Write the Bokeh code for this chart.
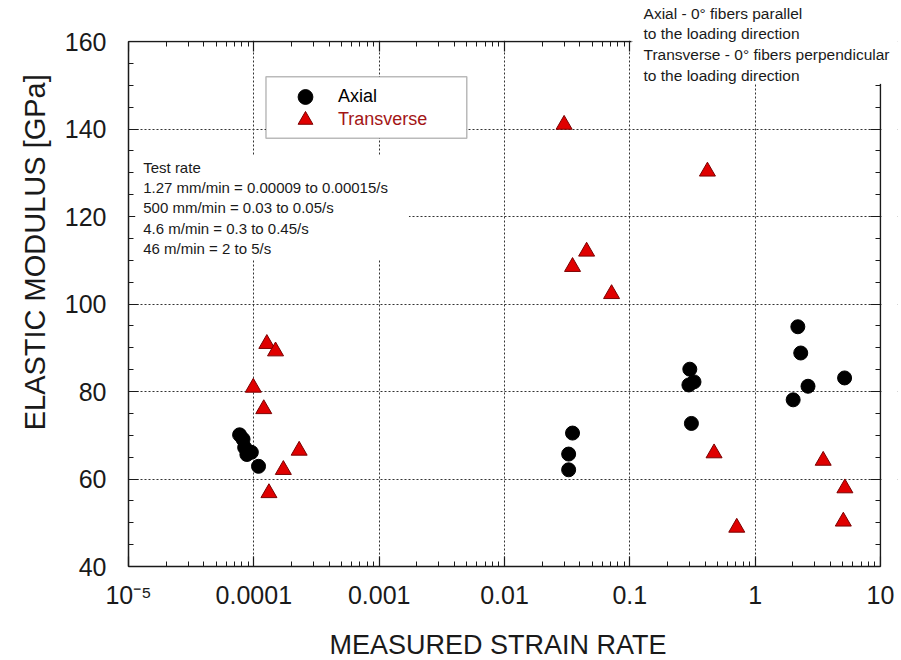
import math
from bokeh.plotting import figure
from bokeh.models import (Range1d, FixedTicker, CustomJSTickFormatter, LogAxis, LinearAxis,
                          Label, Legend, LegendItem, BoxAnnotation)
from bokeh.embed import file_html
from bokeh.resources import INLINE

# ---------------- data ----------------
axial_rate = [7.7e-5, 8.2e-5, 8.45e-5, 8.8e-5, 9.55e-5, 1.09e-4,
              0.0325, 0.0325, 0.0349,
              0.296, 0.301, 0.310, 0.325,
              2.01, 2.19, 2.31, 2.64, 5.17]
axial_modulus = [70.1, 69.1, 67.2, 65.6, 66.1, 62.9,
                 62.1, 65.7, 70.5,
                 81.5, 85.1, 72.7, 82.2,
                 78.1, 94.8, 88.8, 81.2, 83.1]

transverse_rate = [0.99e-4, 1.20e-4, 1.27e-4, 1.32e-4, 1.49e-4, 1.72e-4, 2.30e-4,
                   0.0299, 0.0349, 0.0452, 0.0715,
                   0.416, 0.47, 0.713,
                   3.49, 5.05, 5.2]
transverse_modulus = [80.9, 76.0, 90.9, 56.8, 89.2, 62.1, 66.5,
                      141.0, 108.5, 112.0, 102.3,
                      130.3, 65.9, 48.9,
                      64.2, 50.3, 57.9]

series_names = ["Axial", "Transverse"]

x_ticks = [1e-5, 1e-4, 1e-3, 1e-2, 1e-1, 1, 10]
x_tick_labels = ["10\u207b\u2075", "0.0001", "0.001", "0.01", "0.1", "1", "10"]
y_ticks = [40, 60, 80, 100, 120, 140, 160]

x_title = "MEASURED STRAIN RATE"
y_title = "ELASTIC MODULUS [GPa]"

test_rate_lines = ["Test rate",
                   "1.27 mm/min = 0.00009 to 0.00015/s",
                   "500 mm/min = 0.03 to 0.05/s",
                   "4.6 m/min = 0.3 to 0.45/s",
                   "46 m/min = 2 to 5/s"]
note_lines = ["Axial - 0\u00b0 fibers parallel",
              "to the loading direction",
              "Transverse - 0\u00b0 fibers perpendicular",
              "to the loading direction"]

# ---------------- styling ----------------
FONT = "Liberation Sans"
INK = "#1a1a1a"
TRI_FILL = "#e00000"
TRI_LINE = "#7a0000"
TRANS_TEXT = "#a31515"
NBSP = "\u00a0"

X_MIN, X_MAX = 1e-5, 10          # axis extent of the chart
Y_MIN, Y_MAX = 40, 160
PX_DEC = 752 / 6.0               # pixels per decade
PX_UNIT = 525 / 120.0            # pixels per GPa

# the frame is a little larger than the axes box so the corner note can sit
# over the top-right corner, as in the reference
x_hi = 10 ** (1 + 17 / PX_DEC)
y_hi = Y_MAX + 39 / PX_UNIT

p = figure(x_axis_type="log", x_range=Range1d(X_MIN, x_hi), y_range=Range1d(Y_MIN, y_hi),
           frame_width=769, frame_height=564,
           min_border_left=128, min_border_right=4, min_border_top=2, min_border_bottom=94,
           output_backend="svg", toolbar_location=None,
           background_fill_color="white", border_fill_color="white",
           outline_line_color=None)

x_minor = [k * 10.0 ** e for e in range(-5, 1) for k in range(2, 10)]
xt = FixedTicker(ticks=x_ticks, minor_ticks=x_minor)
yt = FixedTicker(ticks=y_ticks, minor_ticks=list(range(40, 161, 5)))

x_fmt = CustomJSTickFormatter(args=dict(tvals=x_ticks, tlabels=x_tick_labels), code="""
let best = 0, bd = Infinity;
for (let i = 0; i < tvals.length; i++) {
  const d = Math.abs(Math.log10(tick) - Math.log10(tvals[i]));
  if (d < bd) { bd = d; best = i; }
}
return tlabels[best];
""")
blank_fmt = CustomJSTickFormatter(code="return '';")


def style_axis(ax):
    ax.axis_line_color = INK
    ax.axis_line_width = 1.5
    ax.major_tick_in = 10
    ax.major_tick_out = 0
    ax.minor_tick_in = 5
    ax.minor_tick_out = 0
    ax.major_tick_line_color = INK
    ax.minor_tick_line_color = INK
    ax.major_tick_line_width = 1.2
    ax.minor_tick_line_width = 1
    ax.major_label_text_font = FONT
    ax.major_label_text_font_size = "25px"
    ax.major_label_text_color = INK


xa = p.xaxis[0]
xa.ticker = xt
xa.formatter = x_fmt
xa.bounds = (X_MIN, X_MAX)
style_axis(xa)
xa.major_label_standoff = 14
xa.axis_label = x_title + NBSP * 4
xa.axis_label_text_font = FONT
xa.axis_label_text_font_size = "27px"
xa.axis_label_text_font_style = "normal"
xa.axis_label_text_color = INK
xa.axis_label_standoff = 18

ya = p.yaxis[0]
ya.ticker = yt
ya.bounds = (Y_MIN, Y_MAX)
style_axis(ya)
ya.major_label_standoff = 22
ya.axis_label = NBSP * 8 + y_title
ya.axis_label_text_font = FONT
ya.axis_label_text_font_size = "29px"
ya.axis_label_text_font_style = "normal"
ya.axis_label_text_color = INK
ya.axis_label_standoff = 11

# top and right axes, drawn at the edges of the axes box, stopping at the corner note
top_ax = LogAxis(ticker=xt, formatter=blank_fmt, bounds=(X_MIN, 0.104), fixed_location=Y_MAX)
style_axis(top_ax)
top_ax.major_label_text_font_size = "0px"
top_ax.major_label_standoff = 0
p.add_layout(top_ax, "above")

right_ax = LinearAxis(ticker=yt, formatter=blank_fmt, bounds=(Y_MIN, 150.5), fixed_location=X_MAX)
style_axis(right_ax)
right_ax.major_label_text_font_size = "0px"
right_ax.major_label_standoff = 0
p.add_layout(right_ax, "right")

p.xgrid.ticker = xt
p.ygrid.ticker = yt
for g in (p.xgrid[0], p.ygrid[0]):
    g.grid_line_color = "#333333"
    g.grid_line_dash = "2 2"
    g.grid_line_width = 1

axial_r = p.scatter(axial_rate, axial_modulus, marker="circle", size=14,
                    fill_color="black", line_color="black")
trans_r = p.scatter(transverse_rate, transverse_modulus, marker="triangle", size=16,
                    fill_color=TRI_FILL, line_color=TRI_LINE, line_width=1)

# blank out the grid outside the axes box (top strip and right strip)
p.add_layout(BoxAnnotation(bottom=Y_MAX + 1 / PX_UNIT, fill_color="white", fill_alpha=1.0,
                           line_alpha=0))
p.add_layout(BoxAnnotation(left=10 ** (1 + 1 / PX_DEC), fill_color="white", fill_alpha=1.0,
                           line_alpha=0))

# legend frame
legend_box = BoxAnnotation(left=1.25e-4, right=0.0050, top=151.95, bottom=137.9,
                           fill_color="white", fill_alpha=1.0,
                           line_color=INK, line_width=1.5)
p.add_layout(legend_box)


def make_legend(item, color, loc):
    lg = Legend(items=[item], location=loc, orientation="vertical",
                border_line_alpha=0, background_fill_alpha=0,
                padding=0, margin=0, spacing=0,
                glyph_width=66, glyph_height=37, label_height=23, label_standoff=0,
                label_text_font=FONT, label_text_font_size="18px",
                label_text_color=color)
    return lg


p.add_layout(make_legend(LegendItem(label=series_names[0], renderers=[axial_r]), "black", (144, 451)))
p.add_layout(make_legend(LegendItem(label=series_names[1], renderers=[trans_r]), TRANS_TEXT, (144, 428)))

# text blocks
p.add_layout(Label(x=1.131e-5, y=133.9, text="\n".join(test_rate_lines),
                   text_align="left", text_baseline="top",
                   text_font=FONT, text_font_size="15px", text_color=INK,
                   text_line_height=1.2,
                   background_fill_color="white", background_fill_alpha=1.0,
                   padding=dict(left=8, right=21, top=3, bottom=2)))

p.add_layout(Label(x=0.1051, y=y_hi, text="\n".join(note_lines),
                   text_align="left", text_baseline="top",
                   text_font=FONT, text_font_size="15.5px", text_color=INK,
                   text_line_height=1.22,
                   background_fill_color="white", background_fill_alpha=1.0,
                   padding=dict(left=11, right=10, top=2, bottom=0)))

open("out.html", "w").write(file_html(p, INLINE))
